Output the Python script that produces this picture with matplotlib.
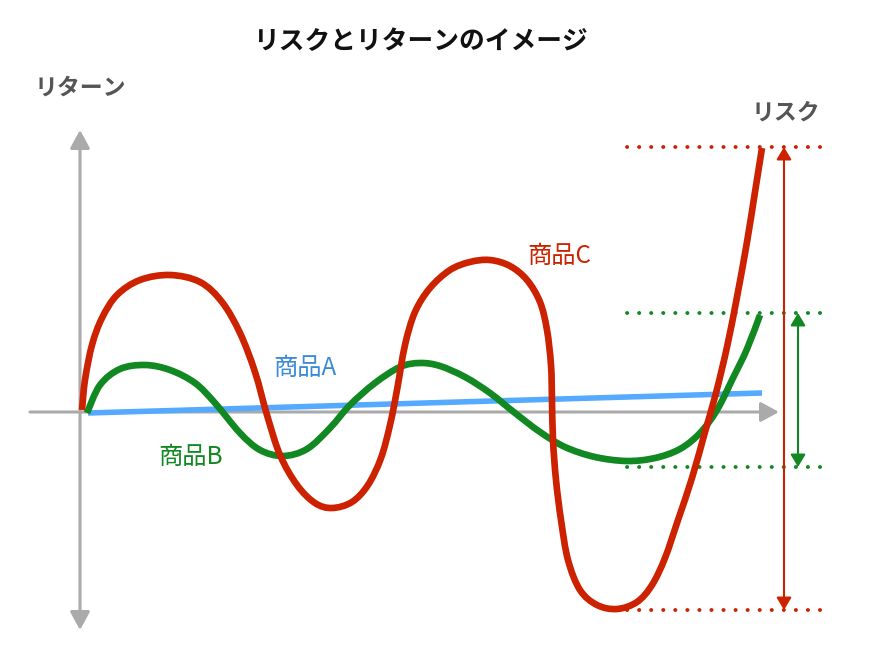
import matplotlib
matplotlib.use("Agg")
import numpy as np
import matplotlib.pyplot as plt
from matplotlib.patches import FancyArrowPatch, PathPatch
from matplotlib.path import Path

plt.rcParams['font.family'] = ['Noto Sans CJK JP', 'DejaVu Sans']

# ---- data (risk on x, return on y; origin = axis crossing) ----
title = "リスクとリターンのイメージ"
y_label = "リターン"
x_label = "リスク"
names = ["商品A", "商品B", "商品C"]

a_x = [8, 682]
a_y = [-1, 19]

b_x = [7, 20, 40, 65, 90, 115, 135, 160, 180, 203, 227, 250, 270, 295, 320, 340, 360,
       385, 410, 435, 460, 485, 515, 547, 575, 600, 620, 637, 653, 667, 680]
b_y = [-1, 27, 43, 47, 42, 29, 9, -21, -38, -44, -37, -16, 7, 29, 45, 49, 46,
       35, 19, -1, -20, -35, -45, -49, -46, -37, -21, 2, 34, 63, 97]

c_x = [2, 5, 12, 22, 37, 60, 90, 120, 142, 160, 175, 187, 200, 217, 235, 252, 272, 288,
       301, 310, 317, 325, 335, 350, 370, 390, 410, 430, 447, 460, 467, 471, 472, 473,
       476, 481, 488, 500, 517, 537, 557, 572, 585, 598, 612, 625, 636, 647, 657, 667,
       675, 682]
c_y = [2, 32, 67, 94, 117, 132, 137, 130, 110, 79, 40, -3, -43, -73, -91, -96, -90, -73,
       -46, -13, 22, 67, 100, 124, 142, 150, 152, 146, 132, 110, 82, 47, 12, -28,
       -68, -108, -148, -178, -193, -197, -190, -173, -146, -108, -66, -20, 19, 65, 115, 170,
       220, 264]

# range levels (max / min of B and C)
c_levels = [265, -198]
b_levels = [99, -55]

RED = '#CC2200'
GREEN = '#118822'
BLUE = '#55AAFF'
BLUE_TXT = '#3A8AD8'
GRAY = '#AAAAAA'


def smooth_path(xs, ys):
    """Bezier path through the read points (Catmull-Rom tangents)."""
    p = np.column_stack([xs, ys]).astype(float)
    n = len(p)
    verts = [p[0]]
    codes = [Path.MOVETO]
    for i in range(n - 1):
        p0 = p[i - 1] if i > 0 else p[i]
        p1, p2 = p[i], p[i + 1]
        p3 = p[i + 2] if i + 2 < n else p[i + 1]
        c1 = p1 + (p2 - p0) / 6.0
        c2 = p2 - (p3 - p1) / 6.0
        verts += [c1, c2, p2]
        codes += [Path.CURVE4] * 3
    return Path(verts, codes)


fig = plt.figure(figsize=(8.71, 6.52), dpi=100)
ax = fig.add_axes([0, 0, 1, 1])
ax.set_xlim(-80, 791)
ax.set_ylim(-240, 412)
ax.axis('off')

# axes with arrows
ax.add_patch(FancyArrowPatch((-50, 0), (699, 0), arrowstyle='-|>,head_length=11,head_width=6',
                             mutation_scale=1, color=GRAY, lw=2.2, shrinkA=0, shrinkB=0, zorder=1))
ax.add_patch(FancyArrowPatch((0, -218), (0, 282), arrowstyle='<|-|>,head_length=11,head_width=6',
                             mutation_scale=1, color=GRAY, lw=2.2, shrinkA=0, shrinkB=0, zorder=1))

# curves
ax.plot(a_x, a_y, color=BLUE, lw=4.0, solid_capstyle='butt', zorder=3)
ax.add_patch(PathPatch(smooth_path(b_x, b_y), fill=False, edgecolor=GREEN, lw=4.8,
                       capstyle='butt', joinstyle='round', zorder=4))
ax.add_patch(PathPatch(smooth_path(c_x, c_y), fill=False, edgecolor=RED, lw=4.8,
                       capstyle='butt', joinstyle='round', zorder=5))

# dotted level lines
dot_x = [547, 743]
for lv in c_levels:
    ax.plot(dot_x, [lv, lv], color=RED, lw=2.8, linestyle=(0, (0.05, 3.05)),
            dash_capstyle='round', zorder=2)
for lv in b_levels:
    ax.plot(dot_x, [lv, lv], color=GREEN, lw=2.8, linestyle=(0, (0.05, 3.05)),
            dash_capstyle='round', zorder=2)

# range arrows
ax.add_patch(FancyArrowPatch((704, c_levels[1]), (704, c_levels[0]),
                             arrowstyle='<|-|>,head_length=7.5,head_width=4.5',
                             mutation_scale=1, color=RED, lw=1.5, shrinkA=0, shrinkB=0, zorder=6))
ax.add_patch(FancyArrowPatch((718, b_levels[1]), (718, b_levels[0]),
                             arrowstyle='<|-|>,head_length=7.5,head_width=4.5',
                             mutation_scale=1, color=GREEN, lw=1.5, shrinkA=0, shrinkB=0, zorder=6))

# texts
ax.text(340, 370, title, ha='center', va='center', fontsize=18.5, fontweight='bold', color='#111111')
ax.text(-45, 324, y_label, ha='left', va='center', fontsize=16.5, fontweight='bold', color='#555555')
ax.text(672, 299, x_label, ha='left', va='center', fontsize=16.5, fontweight='bold', color='#555555')
ax.text(193, 44, names[0], ha='left', va='center', fontsize=17.5, color=BLUE_TXT)
ax.text(78, -45, names[1], ha='left', va='center', fontsize=17.5, color=GREEN)
ax.text(447, 156, names[2], ha='left', va='center', fontsize=17.5, color=RED)

fig.savefig('out.png', dpi=100)
